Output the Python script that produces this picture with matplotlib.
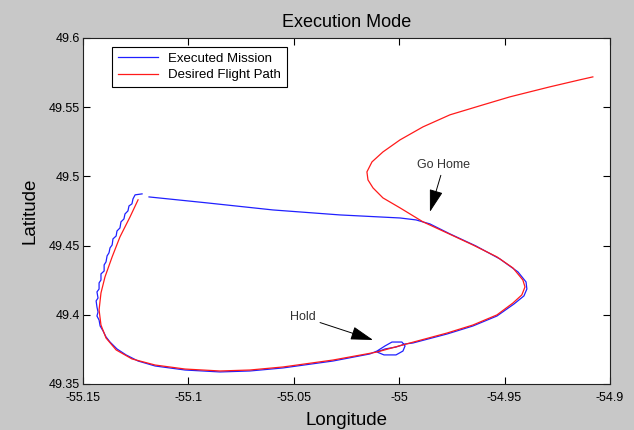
import numpy as np
import matplotlib
matplotlib.use('Agg')
import matplotlib.pyplot as plt

plt.rcParams['font.family'] = ['Liberation Sans', 'DejaVu Sans']

# desired flight path (lon, lat)
des_lon = [-55.1239, -55.1277, -55.1325, -55.1362, -55.1396, -55.1415, -55.1424, -55.1415,
           -55.1391, -55.1343, -55.1268, -55.1158, -55.1016, -55.0850, -55.0708, -55.0551,
           -55.0314, -55.0105, -54.9949, -54.9773, -54.9650, -54.9536, -54.9460, -54.9418,
           -54.9403, -54.9413, -54.9460, -54.9536, -54.9650, -54.9773, -54.9887, -54.9996,
           -55.0077, -55.0124, -55.0148, -55.0153, -55.0129, -55.0077, -54.9996, -54.9887,
           -54.9759, -54.9602, -54.9474, -54.9285, -54.9142, -54.9081]
des_lat = [49.4830, 49.4707, 49.4562, 49.4418, 49.4273, 49.4157, 49.4035, 49.3926,
           49.3832, 49.3746, 49.3681, 49.3637, 49.3608, 49.3594, 49.3601, 49.3623,
           49.3673, 49.3731, 49.3796, 49.3868, 49.3926, 49.3999, 49.4085, 49.4143,
           49.4201, 49.4251, 49.4338, 49.4418, 49.4504, 49.4591, 49.4671, 49.4772,
           49.4844, 49.4916, 49.4974, 49.5032, 49.5104, 49.5176, 49.5263, 49.5357,
           49.5444, 49.5516, 49.5574, 49.5646, 49.5697, 49.5718]

# executed mission (lon, lat)
exe_lon = [-55.1220, -55.1253, -55.1263, -55.1268, -55.1282, -55.1287, -55.1301, -55.1306,
           -55.1320, -55.1325, -55.1339, -55.1343, -55.1358, -55.1362, -55.1372, -55.1377,
           -55.1386, -55.1391, -55.1400, -55.1400, -55.1415, -55.1415, -55.1424, -55.1424,
           -55.1434, -55.1429, -55.1438, -55.1434, -55.1429, -55.1434, -55.1424, -55.1419,
           -55.1405, -55.1391, -55.1372, -55.1339, -55.1296, -55.1239, -55.1158, -55.1016,
           -55.0850, -55.0708, -55.0551, -55.0314, -55.0139,
           -55.0105, -55.0067, -55.0034, -54.9987, -54.9972, -54.9982, -55.0015, -55.0072,
           -55.0105, -55.0067, -55.0015, -54.9972, -54.9935,
           -54.9773, -54.9650, -54.9536, -54.9455, -54.9408, -54.9394, -54.9398, -54.9436,
           -54.9522, -54.9636, -54.9759, -54.9854, -54.9920, -54.9996, -55.0281, -55.0599,
           -55.0912, -55.1187]
exe_lat = [49.4873, 49.4866, 49.4837, 49.4801, 49.4786, 49.4750, 49.4728, 49.4692,
           49.4671, 49.4627, 49.4605, 49.4569, 49.4548, 49.4504, 49.4483, 49.4447,
           49.4425, 49.4382, 49.4360, 49.4316, 49.4295, 49.4251, 49.4230, 49.4186,
           49.4165, 49.4121, 49.4100, 49.4056, 49.4020, 49.3991, 49.3962, 49.3919,
           49.3883, 49.3840, 49.3803, 49.3753, 49.3710, 49.3666, 49.3630, 49.3601,
           49.3587, 49.3594, 49.3616, 49.3666, 49.3717,
           49.3738, 49.3775, 49.3803, 49.3803, 49.3775, 49.3738, 49.3710, 49.3710,
           49.3731, 49.3753, 49.3767, 49.3789, 49.3796,
           49.3861, 49.3919, 49.3991, 49.4078, 49.4136, 49.4186, 49.4237, 49.4309,
           49.4403, 49.4497, 49.4584, 49.4656, 49.4685, 49.4699, 49.4721, 49.4757,
           49.4808, 49.4851]

xticks = [-55.15, -55.1, -55.05, -55.0, -54.95, -54.9]
xtick_labels = ['-55.15', '-55.1', '-55.05', '-55', '-54.95', '-54.9']
yticks = [49.35, 49.4, 49.45, 49.5, 49.55, 49.6]
ytick_labels = ['49.35', '49.4', '49.45', '49.5', '49.55', '49.6']

go_home_tip = (-54.9854, 49.4743)
go_home_txt = (-54.9788, 49.508)
hold_tip = (-55.0124, 49.3818)
hold_txt = (-55.0456, 49.3984)

fig = plt.figure(figsize=(6.34, 4.30), dpi=100, facecolor='#c8c8c8')
ax = fig.add_axes([0.131, 0.107, 0.831, 0.805])
ax.set_facecolor('white')

ax.plot(exe_lon, exe_lat, color='#2020ff', lw=0.9, label='Executed Mission')
ax.plot(des_lon, des_lat, color='#ff1a1a', lw=0.9, label='Desired Flight Path')

arrow = dict(arrowstyle='-|>,head_length=1.0,head_width=0.3', color='black',
             lw=0.7, mutation_scale=14, shrinkA=1, shrinkB=0)
ax.annotate('Go Home', xy=go_home_tip, xytext=go_home_txt, ha='center', va='center',
            fontsize=9, color='#333333', arrowprops=arrow)
ax.annotate('Hold', xy=hold_tip, xytext=hold_txt, ha='center', va='center',
            fontsize=9, color='#333333', arrowprops=arrow)

ax.set_xlim(-55.15, -54.9)
ax.set_ylim(49.35, 49.6)
ax.set_xticks(xticks)
ax.set_xticklabels(xtick_labels)
ax.set_yticks(yticks)
ax.set_yticklabels(ytick_labels)
ax.tick_params(direction='in', top=True, right=True, length=5, width=0.8,
               labelsize=9, pad=2)
ax.tick_params(axis='x', pad=6)
for s in ax.spines.values():
    s.set_linewidth(0.8)
    s.set_color('#222222')

ax.set_title('Execution Mode', fontsize=13, pad=8)
ax.set_xlabel('Longitude', fontsize=13.5)
ax.set_ylabel('Latitude', fontsize=13.5)
ax.xaxis.set_label_coords(0.5, -0.082)
ax.yaxis.set_label_coords(-0.085, 0.5)

leg = ax.legend(loc='upper left', bbox_to_anchor=(0.055, 0.974), borderaxespad=0,
                fancybox=False, framealpha=1, edgecolor='black', fontsize=9.5,
                handlelength=3.0, borderpad=0.45, labelspacing=0.3)
leg.get_frame().set_linewidth(0.8)

fig.savefig('out.png', dpi=100, facecolor=fig.get_facecolor())
